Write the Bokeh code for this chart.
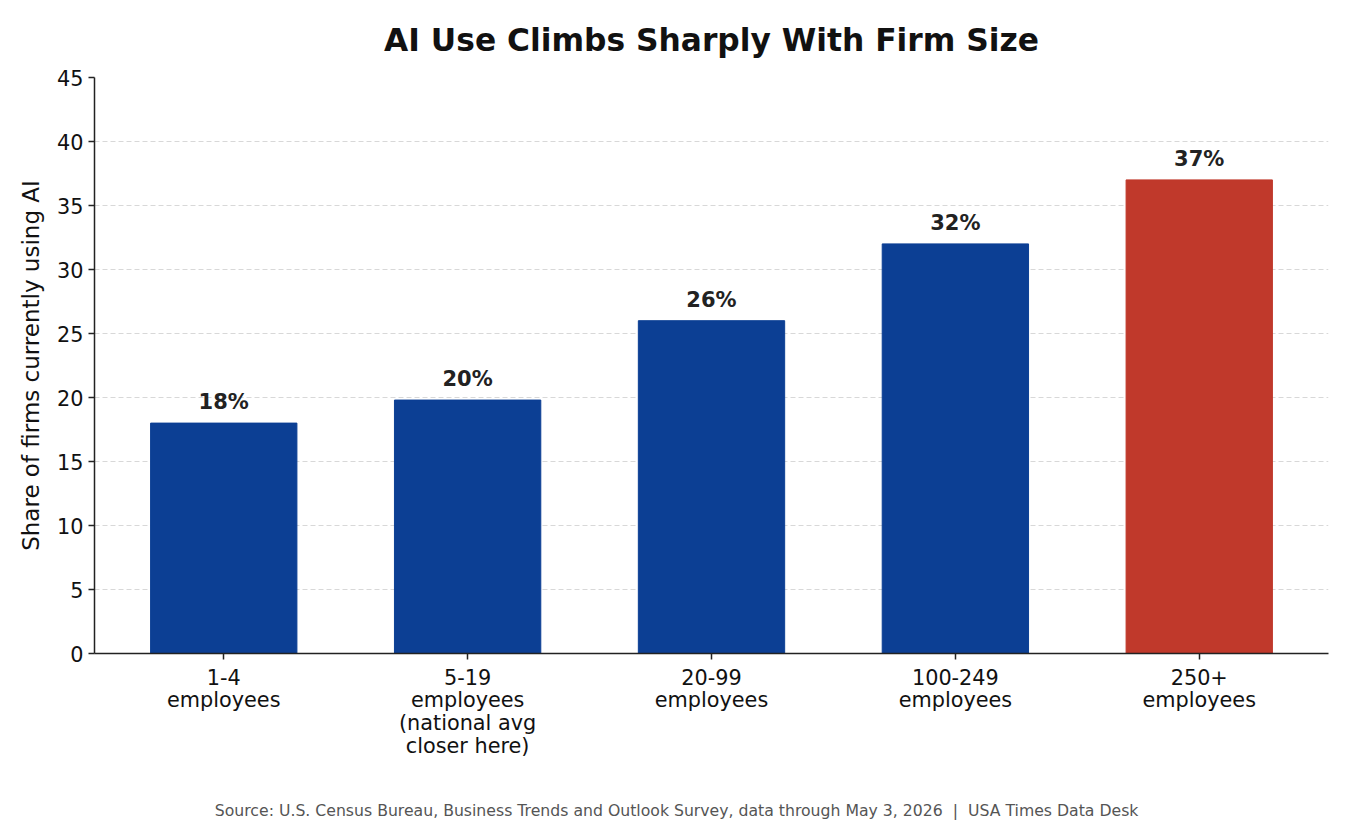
from bokeh.plotting import figure
from bokeh.embed import file_html
from bokeh.resources import INLINE
from bokeh.models import ColumnDataSource, FixedTicker, Range1d
from bokeh.core.properties import value

categories = ["1-4\nemployees", "5-19\nemployees\n(national avg\ncloser here)",
              "20-99\nemployees", "100-249\nemployees", "250+\nemployees"]
shares = [18, 19.8, 26, 32, 37]
bar_labels = ["18%", "20%", "26%", "32%", "37%"]
bar_colors = ["#0c3f94", "#0c3f94", "#0c3f94", "#0c3f94", "#c0392b"]
y_ticks = [0, 5, 10, 15, 20, 25, 30, 35, 40, 45]
source_text = ("Source: U.S. Census Bureau, Business Trends and Outlook Survey, "
               "data through May 3, 2026\u00a0\u00a0|\u00a0\u00a0USA Times Data Desk")

FONT = "DejaVu Sans"

xs = list(range(len(categories)))
source = ColumnDataSource(dict(x=xs, share=shares, label=bar_labels, color=bar_colors))

p = figure(width=1340, height=822, output_backend="svg", toolbar_location=None, tools="",
           x_range=Range1d(-0.53, len(categories) - 0.47), y_range=Range1d(0, 45),
           min_border_left=94, min_border_right=12, min_border_top=76, min_border_bottom=169)

p.title.text = "AI Use Climbs Sharply With Firm Size"
p.title.align = "center"
p.title.text_font = FONT
p.title.text_font_size = "31.3px"
p.title.text_font_style = "bold"
p.title.text_color = "#111111"
p.title.offset = 0
p.title.standoff = 39

p.vbar(x="x", top="share", width=0.6, color="color", source=source)
p.text(x="x", y="share", text="label", source=source, text_align="center",
       text_baseline="bottom", y_offset=-9, text_font=value(FONT),
       text_font_size="21px", text_font_style="bold", text_color="#222222")

p.xaxis.ticker = FixedTicker(ticks=xs)
p.xaxis.major_label_overrides = {i: c for i, c in enumerate(categories)}
p.yaxis.ticker = FixedTicker(ticks=y_ticks)
p.yaxis.axis_label = "Share of firms currently using AI"

for ax in (p.xaxis, p.yaxis):
    ax.major_label_text_font = FONT
    ax.major_label_text_font_size = "20.8px"
    ax.major_label_text_color = "#111111"
    ax.axis_line_color = "#222222"
    ax.axis_line_width = 1.5
    ax.major_tick_line_color = "#222222"
    ax.major_tick_line_width = 1.5
    ax.major_tick_out = 6
    ax.major_tick_in = 0
    ax.minor_tick_line_color = None
p.xaxis.major_label_text_line_height = 0.95
p.xaxis.major_label_standoff = 6
p.yaxis.major_label_standoff = 5
p.yaxis.axis_label_text_font = FONT
p.yaxis.axis_label_text_font_size = "23px"
p.yaxis.axis_label_text_font_style = "normal"
p.yaxis.axis_label_text_color = "#111111"
p.yaxis.axis_label_standoff = 10

# source line goes in the x axis label; trailing spaces pull it to the page centre
p.xaxis.axis_label = source_text + "\u00a0" * 14
p.xaxis.axis_label_text_font = FONT
p.xaxis.axis_label_text_font_size = "15.7px"
p.xaxis.axis_label_text_font_style = "normal"
p.xaxis.axis_label_text_color = "#555555"
p.xaxis.axis_label_standoff = 40

p.xgrid.grid_line_color = None
p.ygrid.grid_line_color = "#d8d8d8"
p.ygrid.grid_line_dash = "5 3"
p.ygrid.grid_line_width = 1
p.outline_line_color = None

open("out.html", "w").write(file_html(p, INLINE))
